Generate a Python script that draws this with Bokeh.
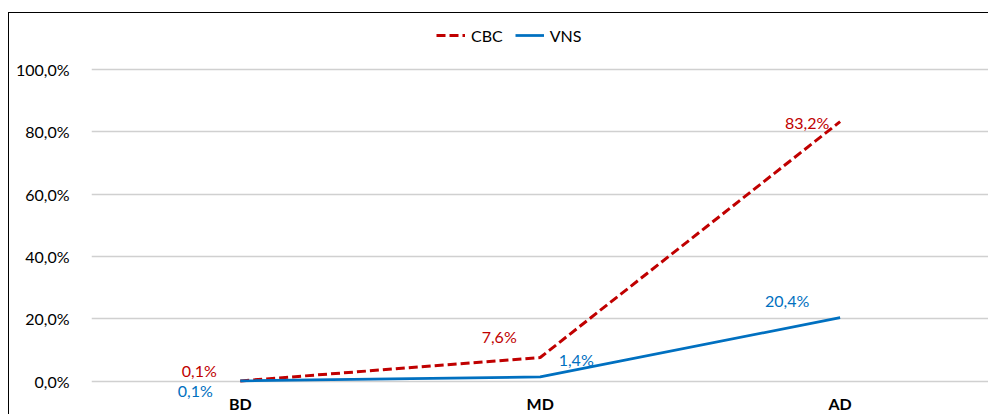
from bokeh.plotting import figure
from bokeh.models import (ColumnDataSource, FixedTicker, Range1d, Legend, LegendItem,
                          CustomJSTickFormatter, LabelSet)
from bokeh.core.properties import value
from bokeh.embed import file_html
from bokeh.resources import INLINE

# ---- data ----
categories = ["BD", "MD", "AD"]
cbc = [0.001, 0.076, 0.832]
vns = [0.001, 0.014, 0.204]
y_ticks = [0.0, 0.2, 0.4, 0.6, 0.8, 1.0]

FONT = "Lato"
RED = "#C00000"
BLUE = "#0070C0"

xs = list(range(len(categories)))

def pct(v):
    return ("%.1f%%" % (v * 100)).replace(".", ",")

p = figure(width=980, height=402, output_backend="svg", toolbar_location=None,
           x_range=Range1d(-0.496, 2.498), y_range=Range1d(-0.0585, 1.1784),
           min_border_left=82, min_border_right=0, min_border_top=0, min_border_bottom=14,
           styles={"margin-left": "8px", "margin-top": "12px",
                   "border-top": "1.3px solid #000", "border-left": "1.3px solid #000"})
p.outline_line_color = None
p.background_fill_color = "white"
p.border_fill_color = "white"

# axes
p.xaxis.ticker = FixedTicker(ticks=xs)
p.xaxis.major_label_overrides = {i: c for i, c in enumerate(categories)}
p.xaxis.axis_line_color = None
p.xaxis.major_tick_line_color = None
p.xaxis.minor_tick_line_color = None
p.xaxis.major_tick_out = 0
p.xaxis.major_tick_in = 0
p.xaxis.major_label_standoff = -6
p.xaxis.major_label_text_font = FONT
p.xaxis.major_label_text_font_style = "bold"
p.xaxis.major_label_text_font_size = "16px"
p.xaxis.major_label_text_color = "#000000"

p.yaxis.ticker = FixedTicker(ticks=y_ticks)
p.yaxis.formatter = CustomJSTickFormatter(code="return (tick*100).toFixed(1).replace('.', ',') + '%';")
p.yaxis.axis_line_color = None
p.yaxis.major_tick_line_color = None
p.yaxis.minor_tick_line_color = None
p.yaxis.major_label_standoff = 16
p.yaxis.major_label_text_font = FONT
p.yaxis.major_label_text_font_size = "16px"
p.yaxis.major_label_text_color = "#000000"

p.xgrid.grid_line_color = None
p.ygrid.ticker = FixedTicker(ticks=y_ticks)
p.ygrid.grid_line_color = "#D0D0D0"
p.ygrid.grid_line_width = 1.3

# lines
r_cbc = p.line(xs, cbc, line_color=RED, line_width=3, line_dash="9 4")
r_vns = p.line(xs, vns, line_color=BLUE, line_width=2.75)

# data-label nudges in screen px (right, up)
cbc_dx = [-41, -41, -33]
cbc_dy = [10, 21, -1]
vns_dx = [-45, 36, -53]
vns_dy = [-10, 17, 17]

src_c = ColumnDataSource(dict(x=xs, y=cbc, t=[pct(v) for v in cbc], dx=cbc_dx, dy=cbc_dy))
src_v = ColumnDataSource(dict(x=xs, y=vns, t=[pct(v) for v in vns], dx=vns_dx, dy=vns_dy))
for src, col in ((src_c, RED), (src_v, BLUE)):
    p.add_layout(LabelSet(x="x", y="y", text="t", x_offset="dx", y_offset="dy", source=src,
                          text_color=col, text_font=value(FONT), text_font_size="16px",
                          text_align="center", text_baseline="middle"))

legend = Legend(items=[LegendItem(label="CBC", renderers=[r_cbc]),
                       LegendItem(label="VNS", renderers=[r_vns])],
                orientation="horizontal", location=(345, 354),
                border_line_color=None, background_fill_alpha=0,
                padding=0, margin=0, glyph_width=29, glyph_height=20,
                label_standoff=6, spacing=12,
                label_text_font=FONT, label_text_font_size="16px",
                label_text_color="#000000")
p.add_layout(legend, "center")

open("out.html", "w").write(file_html(p, INLINE))
